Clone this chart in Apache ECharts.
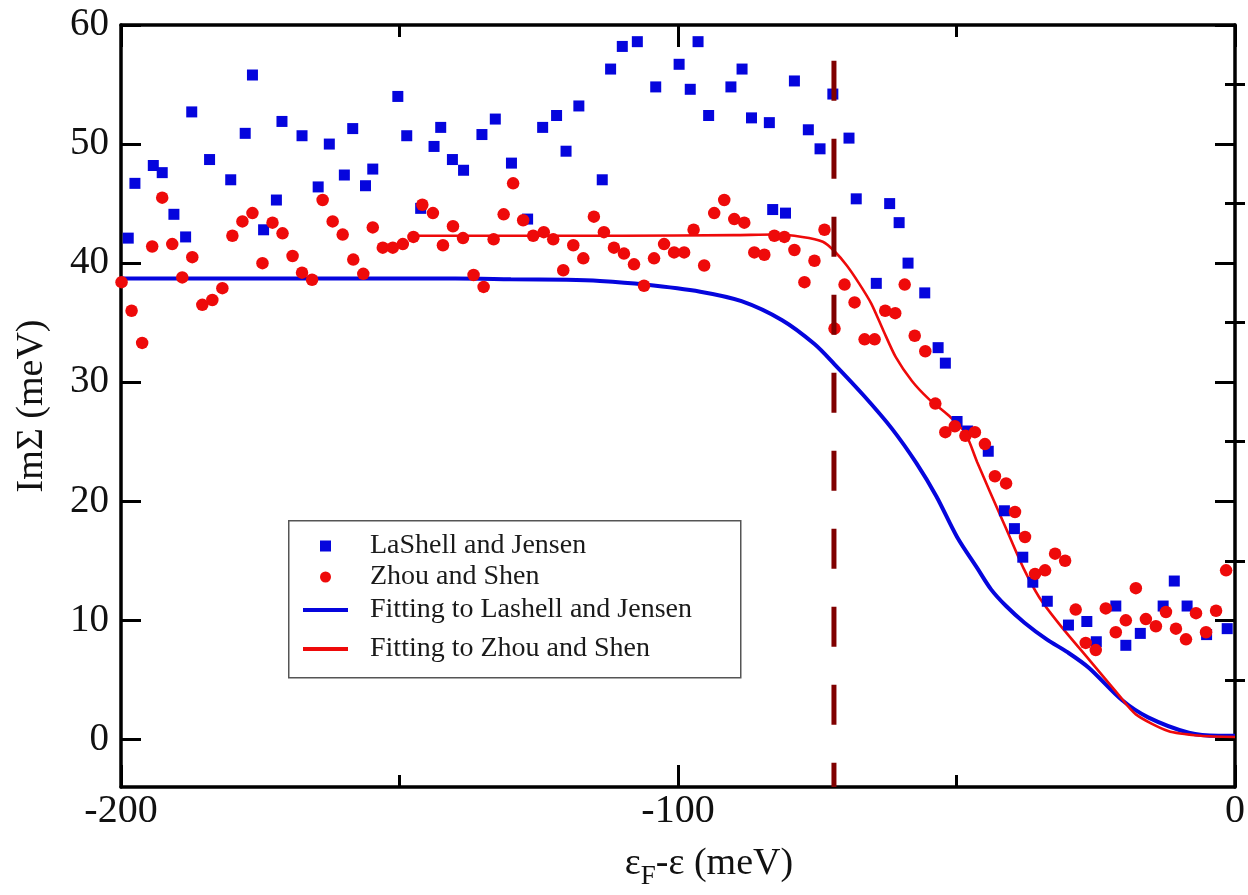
<!DOCTYPE html>
<html>
<head>
<meta charset="utf-8">
<script src="https://cdn.jsdelivr.net/npm/echarts@6/dist/echarts.min.js"></script>
<style>
html,body{margin:0;padding:0;background:#fff;}
#chart{width:1248px;height:895px;}
</style>
</head>
<body>
<div id="chart"></div>
<script>
// ---- data ----
const lashellE = [-198.7,-197.5,-194.2,-192.6,-190.5,-188.4,-187.3,-184.1,-180.3,-177.7,-176.4,-174.4,-172.1,-171.1,-167.5,-164.6,-162.6,-159.9,-158.4,-156.1,-154.8,-150.3,-148.7,-146.2,-143.8,-142.6,-140.5,-138.5,-135.2,-132.8,-129.9,-127.0,-124.3,-121.8,-120.1,-117.8,-113.6,-112.1,-110.0,-107.3,-104.0,-99.8,-97.8,-96.4,-94.5,-90.5,-88.5,-86.8,-83.6,-83.0,-80.7,-79.1,-76.6,-74.5,-72.2,-69.3,-68.0,-64.4,-62.0,-60.3,-58.7,-55.7,-53.3,-52.0,-49.9,-48.0,-44.3,-41.4,-39.6,-38.1,-36.3,-33.7,-29.9,-26.6,-24.9,-21.4,-19.6,-17.0,-12.9,-10.9,-8.6,-5.1,-1.4];
const lashellIm = [42.1,46.7,48.2,47.6,44.1,42.2,52.7,48.7,47.0,50.9,55.8,42.8,45.3,51.9,50.7,46.4,50.0,47.4,51.3,46.5,47.9,54.0,50.7,44.6,49.8,51.4,48.7,47.8,50.8,52.1,48.4,43.7,51.4,52.4,49.4,53.2,47.0,56.3,58.2,58.6,54.8,56.7,54.6,58.6,52.4,54.8,56.3,52.2,51.8,44.5,44.2,55.3,51.2,49.6,54.2,50.5,45.4,38.3,45.0,43.4,40.0,37.5,32.9,31.6,26.7,25.9,24.2,19.2,17.7,15.3,13.2,11.6,9.6,9.9,8.2,11.2,7.9,8.9,11.2,13.3,11.2,8.8,9.3];

const zhouE = [-199.9,-198.1,-196.2,-194.4,-192.6,-190.8,-189.0,-187.2,-185.4,-183.6,-181.8,-180.0,-178.2,-176.4,-174.6,-172.8,-171.0,-169.2,-167.5,-165.7,-163.8,-162.0,-160.2,-158.3,-156.5,-154.8,-153.0,-151.2,-149.4,-147.5,-145.9,-144.0,-142.2,-140.4,-138.6,-136.7,-134.9,-133.1,-131.3,-129.6,-127.8,-126.0,-124.1,-122.4,-120.6,-118.8,-117.0,-115.1,-113.3,-111.5,-109.7,-107.9,-106.1,-104.3,-102.5,-100.7,-98.9,-97.2,-95.3,-93.5,-91.7,-89.9,-88.1,-86.3,-84.5,-82.7,-80.9,-79.1,-77.3,-75.5,-73.7,-71.9,-70.1,-68.3,-66.5,-64.7,-62.8,-61.0,-59.3,-57.5,-55.6,-53.8,-52.0,-50.3,-48.4,-46.7,-44.9,-43.1,-41.1,-39.5,-37.7,-35.9,-34.1,-32.3,-30.5,-28.6,-26.8,-25.0,-23.2,-21.4,-19.6,-17.8,-16.0,-14.2,-12.4,-10.6,-8.8,-7.0,-5.2,-3.4,-1.6];
const zhouIm = [38.4,36.0,33.3,41.4,45.5,41.6,38.8,40.5,36.5,36.9,37.9,42.3,43.5,44.2,40.0,43.4,42.5,40.6,39.2,38.6,45.3,43.5,42.4,40.3,39.1,43.0,41.3,41.3,41.6,42.2,44.9,44.2,41.5,43.1,42.1,39.0,38.0,42.0,44.1,46.7,43.6,42.3,42.6,42.0,39.4,41.5,40.4,43.9,42.6,41.3,40.8,39.9,38.1,40.4,41.6,40.9,40.9,42.8,39.8,44.2,45.3,43.7,43.4,40.9,40.7,42.3,42.2,41.1,38.4,40.2,42.8,34.5,38.2,36.7,33.6,33.6,36.0,35.8,38.2,33.9,32.6,28.2,25.8,26.3,25.5,25.8,24.8,22.1,21.5,19.1,17.0,13.9,14.2,15.6,15.0,10.9,8.1,7.5,11.0,9.0,10.0,12.7,10.1,9.5,10.7,9.3,8.4,10.6,9.0,10.8,14.2];

const fitLJ_E  = [-200,-180,-160,-140,-130,-120,-114,-106,-96,-88.6,-81.3,-75.5,-71.9,-66.7,-61.6,-57.2,-53.6,-49.9,-46.3,-43.8,-41.1,-37.8,-33.8,-30,-26.2,-20.3,-15.6,-8.3,-3,0];
const fitLJ_Im = [38.7,38.7,38.7,38.7,38.65,38.6,38.5,38.2,37.6,36.8,35.2,33.2,31.5,28.9,26.1,23.2,20.4,17.0,14.4,12.6,11.2,9.8,8.4,7.3,6.0,3.3,1.85,0.56,0.3,0.3];

const fitZS_E  = [-148,-130,-110,-90,-82.8,-77.7,-74.0,-71.9,-69.7,-67.5,-65.3,-63.1,-60.9,-58.0,-55.0,-51.4,-48.5,-46.3,-44.0,-41.0,-38.0,-35.1,-31.4,-26.2,-21.0,-17.8,-12.0,-6.2,0];
const fitZS_Im = [42.3,42.3,42.3,42.35,42.4,42.2,41.8,41.0,39.8,38.3,36.6,34.3,32.1,30.1,28.6,27.2,25.8,23.3,20.8,17.6,14.4,11.9,9.6,6.7,3.8,2.1,0.7,0.3,0.2];

const markerE = [-72, -72];
const markerIm = [57, -4];

const xTickStep = 100;
const yMajorTicks = [0, 10, 20, 30, 40, 50, 60];
const yMinorTicks = [5, 15, 25, 35, 45, 55];

const seriesNames = ['LaShell and Jensen', 'Zhou and Shen', 'Fitting to Lashell and Jensen', 'Fitting to Zhou and Shen'];

// ---- helpers ----
const zip = (a, b) => a.map((v, i) => [v, b[i]]);
const FONT = "'Liberation Serif','Times New Roman',serif";
const BLUE = '#0505dd';
const RED = '#ee0a0a';

const frameLine = { show: true, onZero: false, lineStyle: { color: '#000', width: 3.5 } };

const chart = echarts.init(document.getElementById('chart'), null, { renderer: 'canvas' });

const option = {
  animation: false,
  backgroundColor: '#fff',
  grid: { left: 121, right: 10, top: 25, bottom: 99, containLabel: false },
  xAxis: [
    {
      type: 'value', position: 'bottom', min: -200, max: 0, interval: xTickStep,
      axisLine: frameLine,
      axisTick: { show: true, inside: true, length: 22, lineStyle: { color: '#000', width: 3 } },
      minorTick: { show: true, splitNumber: 2, length: 12, lineStyle: { color: '#000', width: 3 } },
      splitLine: { show: false },
      axisLabel: { show: true, margin: 4, fontFamily: FONT, fontSize: 40, color: '#111' },
      name: '{e|ε}{s|F}{e|-ε (meV)}',
      nameLocation: 'middle', nameGap: 52,
      nameTextStyle: {
        padding: [0, 0, 0, 62],
        rich: {
          e: { fontFamily: FONT, fontSize: 38, color: '#111' },
          s: { fontFamily: FONT, fontSize: 27, color: '#111', padding: [24, 0, 0, 0] }
        }
      }
    },
    {
      type: 'value', position: 'top', min: -200, max: 0, interval: xTickStep,
      axisLine: frameLine,
      axisTick: { show: true, inside: true, length: 22, lineStyle: { color: '#000', width: 3 } },
      minorTick: { show: true, splitNumber: 2, length: 12, lineStyle: { color: '#000', width: 3 } },
      splitLine: { show: false },
      axisLabel: { show: false }
    }
  ],
  yAxis: [
    {
      type: 'value', position: 'left', min: -4, max: 60,
      axisLine: frameLine,
      axisTick: { show: true, inside: true, length: 20, customValues: yMajorTicks, lineStyle: { color: '#000', width: 3 } },
      splitLine: { show: false },
      axisLabel: { show: true, customValues: yMajorTicks, margin: 12, fontFamily: FONT, fontSize: 39, color: '#111' },
      name: 'ImΣ (meV)', nameLocation: 'middle', nameGap: 70, nameRotate: 90,
      nameTextStyle: { fontFamily: FONT, fontSize: 38, color: '#111' }
    },
    {
      type: 'value', position: 'left', min: -4, max: 60,
      axisLine: { show: false },
      axisTick: { show: true, inside: true, length: 10, customValues: yMinorTicks, lineStyle: { color: '#000', width: 3 } },
      splitLine: { show: false },
      axisLabel: { show: false }
    },
    {
      type: 'value', position: 'right', min: -4, max: 60,
      axisLine: frameLine,
      axisTick: { show: true, inside: true, length: 20, customValues: yMajorTicks, lineStyle: { color: '#000', width: 3 } },
      splitLine: { show: false },
      axisLabel: { show: false }
    },
    {
      type: 'value', position: 'right', min: -4, max: 60,
      axisLine: { show: false },
      axisTick: { show: true, inside: true, length: 10, customValues: yMinorTicks, lineStyle: { color: '#000', width: 3 } },
      splitLine: { show: false },
      axisLabel: { show: false }
    }
  ],
  legend: [
    {
      orient: 'vertical', left: 320, top: 532, padding: 0,
      itemWidth: 11, itemHeight: 11, itemGap: 3,
      data: [
        { name: seriesNames[0], icon: 'rect' },
        { name: seriesNames[1], icon: 'circle' }
      ],
      textStyle: { fontFamily: FONT, fontSize: 28, color: '#1a1a1a', lineHeight: 26, padding: [0, 0, 0, 34] },
      selectedMode: false
    },
    {
      orient: 'vertical', left: 303, top: 596, padding: 0,
      itemWidth: 45, itemHeight: 4, itemGap: 11,
      data: [
        { name: seriesNames[2], icon: 'rect' },
        { name: seriesNames[3], icon: 'rect' }
      ],
      textStyle: { fontFamily: FONT, fontSize: 28, color: '#1a1a1a', lineHeight: 26, padding: [0, 0, 0, 17] },
      selectedMode: false
    }
  ],
  graphic: [
    {
      type: 'rect', left: 288, top: 520, z: 0,
      shape: { width: 452, height: 157 },
      style: { fill: '#fff', stroke: '#555', lineWidth: 1.5 }
    }
  ],
  series: [
    {
      name: seriesNames[2], type: 'line', xAxisIndex: 0, yAxisIndex: 0,
      data: zip(fitLJ_E, fitLJ_Im), showSymbol: false, symbol: 'none',
      smooth: 0.3,
      lineStyle: { color: BLUE, width: 4 }, itemStyle: { color: BLUE }, z: 2
    },
    {
      name: seriesNames[3], type: 'line', xAxisIndex: 0, yAxisIndex: 0,
      data: zip(fitZS_E, fitZS_Im), showSymbol: false, symbol: 'none',
      smooth: 0.25,
      lineStyle: { color: RED, width: 2.6 }, itemStyle: { color: RED }, z: 3
    },
    {
      name: seriesNames[0], type: 'scatter', xAxisIndex: 0, yAxisIndex: 0,
      data: zip(lashellE, lashellIm), symbol: 'rect', symbolSize: 11,
      itemStyle: { color: BLUE, opacity: 1 }, z: 4
    },
    {
      name: seriesNames[1], type: 'scatter', xAxisIndex: 0, yAxisIndex: 0,
      data: zip(zhouE, zhouIm), symbol: 'circle', symbolSize: 12.5,
      itemStyle: { color: RED, opacity: 1 }, z: 5
    },
    {
      name: 'marker', type: 'line', xAxisIndex: 0, yAxisIndex: 0,
      data: zip(markerE, markerIm), showSymbol: false, symbol: 'none',
      lineStyle: { color: '#800000', width: 5, type: [40, 38] }, z: 6, silent: true
    }
  ]
};
chart.setOption(option);
</script>
</body>
</html>
